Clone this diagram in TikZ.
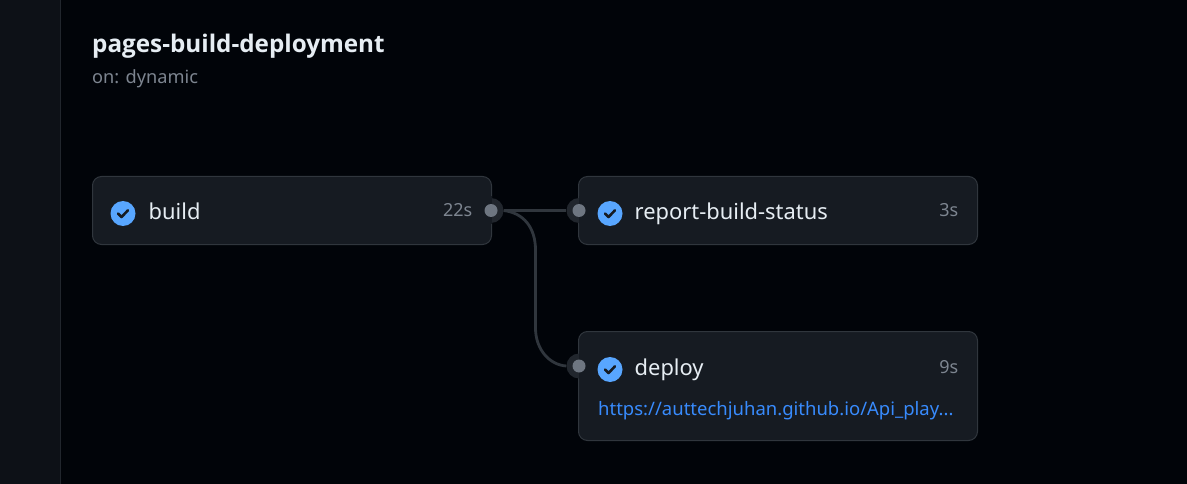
\documentclass[tikz,border=0pt]{standalone}
\usepackage{fontspec}
\setmainfont{Noto Sans}
\newfontfamily\titlefont{Open Sans}
\usepackage{xcolor}
\usetikzlibrary{positioning, calc}
\definecolor{pagebg}{HTML}{010409}
\definecolor{sidebg}{HTML}{0D1117}
\definecolor{sideline}{HTML}{21262D}
\definecolor{boxbg}{HTML}{161B22}
\definecolor{boxline}{HTML}{30363D}
\definecolor{portdot}{HTML}{6E7681}
\definecolor{porthalo}{HTML}{21262D}
\definecolor{wire}{HTML}{30363D}
\definecolor{okblue}{HTML}{58A6FF}
\definecolor{linkblue}{HTML}{388BFD}
\definecolor{jobtext}{HTML}{E6EDF3}
\definecolor{mutedtext}{HTML}{7D8590}
\tikzset{
    jobbox/.style={draw=boxline, line width=1pt, fill=boxbg, rounded corners=9pt, minimum width=399pt, inner sep=0pt, anchor=north west},
    jobname/.style={text=jobtext, font=\fontsize{21.9}{25}\selectfont, inner sep=0pt, anchor=base west},
    jobtime/.style={text=mutedtext, font=\fontsize{18}{22}\selectfont, inner sep=0pt, anchor=base east},
    okicon/.style={circle, fill=okblue, minimum size=25pt, inner sep=0pt},
    halo/.style={circle, fill=porthalo, minimum size=25pt, inner sep=0pt},
    port/.style={circle, fill=portdot, minimum size=13pt, inner sep=0pt},
    wireline/.style={draw=wire, line width=2.8pt}
}
\newcommand{\okmark}[1]{\draw[boxbg, line width=2.6pt, line cap=round, line join=round] ($(#1)+(-5,0)$) -- ($(#1)+(-1.5,3.5)$) -- ($(#1)+(5,-3.2)$);}
\begin{document}
\begin{tikzpicture}[x=1pt, y=-1pt]
        % Page and side bar
        \fill[pagebg] (0,0) rectangle (1187,484);
        \useasboundingbox (0,0) rectangle (1187,484);
        \fill[sidebg] (0,0) rectangle (60,484);
        \draw[sideline, line width=1pt] (60.5,0) -- (60.5,484);

        % Workflow title
        \node[text=jobtext, font=\fontsize{24.25}{28}\titlefont\bfseries, inner sep=0pt, anchor=base west] (title) at (92,53) {pages-build-deployment};
        \node[text=mutedtext, font=\fontsize{18.2}{22}\selectfont, inner sep=0pt, anchor=base west] (trigger) at (92,84) {on: dynamic};

        % Job boxes
        \node[jobbox, minimum height=68pt] (build) at (92,176) {};
        \node[jobbox, minimum height=68pt] (report) at (578,176) {};
        \node[jobbox, minimum height=109pt] (deploy) at (578,331) {};

        % Halos behind the ports
        \node[halo] (buildhalo) at (491,210.5) {};
        \node[halo] (reporthalo) at (579,210.5) {};
        \node[halo] (deployhalo) at (579,366) {};
        \fill[boxbg] (build.north east) ++(-0.5,20) rectangle ++(-14,28);
        \fill[boxbg] (report.north west) ++(0.5,20) rectangle ++(14,28);
        \fill[boxbg] (deploy.north west) ++(0.5,20) rectangle ++(14,28);

        % Connectors
        \draw[wireline] (buildhalo) -- (reporthalo);
        \draw[wireline] (buildhalo.east) .. controls (524,213) and (535.5,228) .. (535.5,250) -- (535.5,328) .. controls (535.5,350) and (550,365) .. (deployhalo.west);

        % Ports
        \node[port] (buildport) at (491,210.5) {};
        \node[port] (reportport) at (579,210.5) {};
        \node[port] (deployport) at (579,366) {};

        % Status icons
        \node[okicon] (buildok) at (123,213.5) {};
        \node[okicon] (reportok) at (610,213.5) {};
        \node[okicon] (deployok) at (610,369.5) {};
        \okmark{buildok}
        \okmark{reportok}
        \okmark{deployok}

        % Job names and times
        \node[jobname] (buildname) at (148.5,219) {build};
        \node[jobname] (reportname) at (634.5,219) {report-build-status};
        \node[jobname] (deployname) at (634.5,375) {deploy};
        \node[jobtime] (buildtime) at (472.5,217) {22s};
        \node[jobtime] (reporttime) at (958.5,217) {3s};
        \node[jobtime] (deploytime) at (958.5,373) {9s};

        % Deployment link
        \node[text=linkblue, font=\fontsize{18.5}{22}\selectfont, inner sep=0pt, anchor=base west] (deploylink) at (598,415) {https://auttechjuhan.github.io/Api\_play...};
    \end{tikzpicture}
\end{document}
